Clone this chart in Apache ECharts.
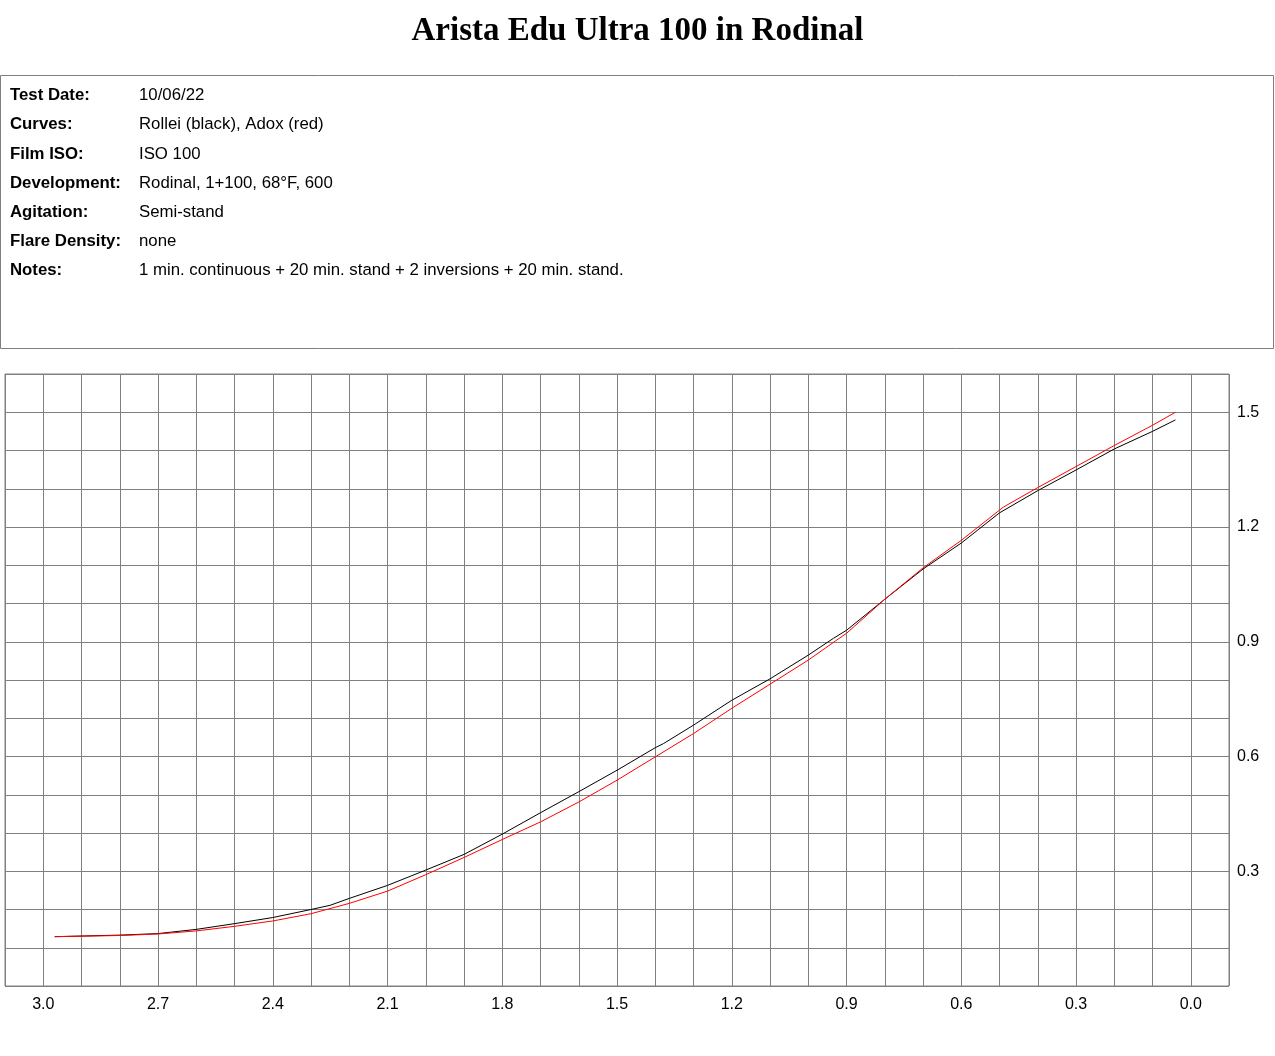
<!DOCTYPE html>
<html>
<head>
<meta charset="utf-8">
<script src="https://cdn.jsdelivr.net/npm/echarts@6/dist/echarts.min.js"></script>
<style>
html,body{margin:0;padding:0;background:#fff;}
#main{width:1275px;height:1056px;}
</style>
</head>
<body>
<div id="main"></div>
<script>
// ---- Data ----
var titleText = 'Arista Edu Ultra 100 in Rodinal';
var infoLabels = ['Test Date:', 'Curves:', 'Film ISO:', 'Development:', 'Agitation:', 'Flare Density:', 'Notes:'];
var infoValues = ['10/06/22', 'Rollei (black), Adox (red)', 'ISO 100', 'Rodinal, 1+100, 68\u00B0F, 600', 'Semi-stand', 'none', '1 min. continuous + 20 min. stand + 2 inversions + 20 min. stand.'];

// Rollei (black) curve: log exposure (x) vs density (y)
var rolleiX = [2.97, 2.8, 2.7, 2.6, 2.5, 2.4, 2.3, 2.25, 2.2, 2.1, 2.0, 1.9, 1.8, 1.7, 1.6, 1.5, 1.4, 1.378, 1.3, 1.2, 1.1, 1.0, 0.934, 0.9, 0.8, 0.7, 0.6, 0.5, 0.4, 0.3, 0.2, 0.1, 0.04];
var rolleiY = [0.129, 0.133, 0.137, 0.148, 0.163, 0.179, 0.200, 0.211, 0.229, 0.263, 0.303, 0.344, 0.397, 0.453, 0.508, 0.564, 0.623, 0.634, 0.682, 0.747, 0.803, 0.865, 0.909, 0.930, 1.011, 1.090, 1.158, 1.237, 1.295, 1.349, 1.404, 1.450, 1.480];

// Adox (red) curve
var adoxX = [2.97, 2.8, 2.7, 2.6, 2.5, 2.4, 2.3, 2.2, 2.1, 2.0, 1.9, 1.8, 1.7, 1.6, 1.5, 1.4, 1.3, 1.2, 1.1, 1.0, 0.929, 0.9, 0.8, 0.7, 0.6, 0.49, 0.4, 0.3, 0.2, 0.1, 0.04];
var adoxY = [0.129, 0.132, 0.136, 0.144, 0.156, 0.170, 0.189, 0.216, 0.248, 0.291, 0.336, 0.383, 0.429, 0.481, 0.538, 0.599, 0.660, 0.726, 0.789, 0.852, 0.902, 0.922, 1.011, 1.093, 1.165, 1.252, 1.303, 1.358, 1.413, 1.466, 1.500];

function pairs(xs, ys) { return xs.map(function (x, i) { return [x, ys[i]]; }); }

var FONT = '"Liberation Sans", Arial, sans-serif';

var graphics = [{
  type: 'rect',
  shape: { x: 0.5, y: 75.5, width: 1273, height: 273 },
  style: { fill: 'none', stroke: '#808080', lineWidth: 1 },
  silent: true
}];
infoLabels.forEach(function (lab, i) {
  var yc = 95 + i * 29.2;
  graphics.push({
    type: 'text', left: 10, top: yc - 8,
    style: { text: lab, font: 'bold 16.8px ' + FONT, fill: '#000' }
  });
  graphics.push({
    type: 'text', left: 139, top: yc - 8,
    style: { text: infoValues[i], font: '16.8px ' + FONT, fill: '#000' }
  });
});

var chart = echarts.init(document.getElementById('main'), null, { renderer: 'canvas' });
chart.setOption({
  animation: false,
  backgroundColor: '#fff',
  title: {
    text: titleText,
    left: 'center',
    top: 10,
    textStyle: { fontFamily: '"Liberation Serif", "Times New Roman", serif', fontWeight: 'bold', fontSize: 33, color: '#000' }
  },
  graphic: graphics,
  grid: {
    left: 5, top: 374, width: 1224, height: 612,
    show: true, borderColor: '#808080', borderWidth: 1, containLabel: false
  },
  xAxis: {
    type: 'value', min: -0.1, max: 3.1, interval: 0.1, inverse: true,
    axisLine: { show: false }, axisTick: { show: false },
    splitLine: { show: true, lineStyle: { color: '#808080', width: 1 } },
    axisLabel: {
      margin: 11, fontSize: 16, fontFamily: FONT, color: '#000',
      formatter: function (v) {
        var n = Math.round(v * 10);
        return (n >= 0 && n % 3 === 0) ? (n / 10).toFixed(1) : '';
      }
    }
  },
  yAxis: {
    type: 'value', position: 'right', min: 0, max: 1.6, interval: 0.1,
    axisLine: { show: false }, axisTick: { show: false },
    splitLine: { show: true, lineStyle: { color: '#808080', width: 1 } },
    axisLabel: {
      margin: 8, fontSize: 16, fontFamily: FONT, color: '#000',
      formatter: function (v) {
        var n = Math.round(v * 10);
        return (n > 0 && n % 3 === 0) ? (n / 10).toFixed(1) : '';
      }
    }
  },
  series: [{
    name: 'Rollei', type: 'line', data: pairs(rolleiX, rolleiY),
    showSymbol: false, symbol: 'none', smooth: false,
    lineStyle: { color: '#000', width: 1 }
  }, {
    name: 'Adox', type: 'line', data: pairs(adoxX, adoxY),
    showSymbol: false, symbol: 'none', smooth: false,
    lineStyle: { color: '#ff0000', width: 1 }
  }]
});
</script>
</body>
</html>
